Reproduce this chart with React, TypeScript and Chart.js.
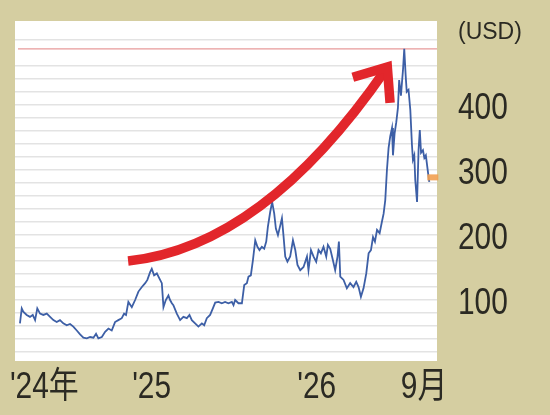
import React, { useEffect, useRef } from "react";
import { Chart, registerables } from "chart.js";

Chart.register(...registerables);

// x = months since Jan 2024 (0 = 1 Jan 2024), y = price in USD
const MONTHS = [
  2.43, 2.56, 2.67, 2.92, 3.16, 3.36, 3.53, 3.69, 3.89, 4.13, 4.38, 4.62, 4.86, 5.1, 5.34, 5.58, 5.83, 6.07, 6.31, 6.56,
  6.8, 7.04, 7.29, 7.53, 7.77, 7.96, 8.13, 8.38, 8.62, 8.86, 9.1, 9.34, 9.58, 9.83, 10.0, 10.14, 10.31, 10.56, 10.8, 11.04,
  11.29, 11.53, 11.69, 11.89, 12.01, 12.18, 12.38, 12.57, 12.74, 12.86, 13.03, 13.22, 13.34, 13.47, 13.58, 13.83, 14.07, 14.31, 14.56, 14.75,
  14.92, 15.16, 15.4, 15.65, 15.82, 16.01, 16.25, 16.45, 16.62, 16.86, 17.1, 17.34, 17.58, 17.83, 17.95, 18.07, 18.31, 18.56, 18.73, 18.92,
  19.04, 19.21, 19.36, 19.53, 19.69, 19.84, 20.01, 20.18, 20.33, 20.45, 20.62, 20.76, 20.91, 21.03, 21.18, 21.35, 21.47, 21.58, 21.71, 21.87,
  22.07, 22.27, 22.44, 22.6, 22.8, 23.04, 23.29, 23.4, 23.58, 23.77, 23.96, 24.13, 24.3, 24.49, 24.69, 24.81, 24.98, 25.18, 25.34, 25.51,
  25.61, 25.71, 25.95, 26.19, 26.43, 26.67, 26.87, 27.04, 27.21, 27.4, 27.6, 27.77, 27.94, 28.09, 28.23, 28.38, 28.57, 28.74, 28.86, 28.98,
  29.1, 29.22, 29.34, 29.47, 29.54, 29.66, 29.78, 29.9, 29.99, 30.12, 30.19, 30.27, 30.36, 30.46, 30.54, 30.67, 30.8, 30.92, 30.99, 31.09,
  31.16, 31.29, 31.4, 31.49, 31.58, 31.72, 31.82, 31.93, 32.09, 32.18,
];
const PRICES = [
  63, 86, 81, 76, 73, 76, 68, 86, 78, 76, 78, 73, 68, 65, 68, 63, 60, 62, 58, 52,
  46, 41, 40, 42, 41, 47, 40, 42, 50, 55, 52, 65, 68, 71, 78, 76, 96, 88, 99, 112,
  119, 125, 130, 142, 147, 137, 140, 132, 125, 88, 99, 106, 99, 94, 91, 78, 68, 73, 71, 76,
  68, 63, 58, 63, 60, 71, 76, 86, 95, 96, 94, 96, 94, 96, 91, 99, 94, 94, 122, 125,
  135, 137, 160, 191, 181, 176, 181, 178, 189, 212, 235, 250, 232, 209, 199, 214, 225, 199, 166, 158,
  166, 191, 176, 153, 145, 150, 166, 145, 176, 166, 158, 176, 171, 181, 166, 184, 178, 160, 145, 166,
  189, 135, 130, 117, 125, 119, 127, 119, 104, 117, 140, 171, 176, 196, 189, 207, 202, 220, 232, 253,
  299, 333, 351, 364, 322, 356, 373, 395, 438, 414, 433, 454, 486, 446, 420, 423, 392, 338, 315, 322,
  284, 250, 330, 361, 326, 330, 318, 322, 295, 281,
];

const X_TICK_VALUES = [4.2, 12, 24, 31.8];
const X_TICK_LABELS = ["'24年", "'25", "'26", "9月"];
const Y_GRID_VALUES = [20, 40, 60, 80, 100, 120, 140, 160, 180, 200, 220, 240, 260, 280, 300, 320, 340, 360, 380, 400, 420, 440, 460, 480, 500];
const Y_LABEL_VALUES = [100, 200, 300, 400];
const UNIT_LABEL = "(USD)";
const MARKER_VALUE = 288;
// curved arrow in data coordinates (month, USD)
const ARROW_START = { x: 10.29, y: 159 };
const ARROW_CTRL = { x: 20.11, y: 181 };
const ARROW_END = { x: 29.13, y: 458 };

const BG = "#d5cea1";
const TEXT = "#2b2a23";
const LABEL_FONT = '36px "Liberation Sans", "Noto Sans CJK JP", sans-serif';
const NARROW_FACTOR = 0.83;

export default function App() {
  const ref = useRef<HTMLCanvasElement>(null);

  useEffect(() => {
    const canvas = ref.current!;
    const athValue = Math.max(...PRICES);

    const narrowText = (ctx: any, text: string, x: number, y: number, align: string) => {
      ctx.save();
      ctx.translate(x, y);
      ctx.scale(NARROW_FACTOR, 1);
      ctx.textAlign = align;
      ctx.textBaseline = "alphabetic";
      ctx.fillText(text, 0, 0);
      ctx.restore();
    };

    const decor = {
      id: "decor",
      beforeDraw(chart: any) {
        const { ctx, chartArea: a, width, height } = chart;
        ctx.save();
        ctx.fillStyle = BG;
        ctx.fillRect(0, 0, width, height);
        ctx.fillStyle = "#ffffff";
        ctx.fillRect(a.left, a.top, a.right - a.left, a.bottom - a.top);
        ctx.restore();
      },
      beforeDatasetsDraw(chart: any) {
        const { ctx, chartArea: a, scales } = chart;
        const y = scales.y.getPixelForValue(athValue);
        ctx.save();
        ctx.strokeStyle = "#e79a9a";
        ctx.lineWidth = 1.3;
        ctx.beginPath();
        ctx.moveTo(a.left + 3, y);
        ctx.lineTo(a.right, y);
        ctx.stroke();
        ctx.restore();
      },
      afterDatasetsDraw(chart: any) {
        const { ctx, scales } = chart;
        const xs = scales.x, ys = scales.y;
        const p0 = { x: xs.getPixelForValue(ARROW_START.x), y: ys.getPixelForValue(ARROW_START.y) };
        const p1 = { x: xs.getPixelForValue(ARROW_CTRL.x), y: ys.getPixelForValue(ARROW_CTRL.y) };
        const p2 = { x: xs.getPixelForValue(ARROW_END.x), y: ys.getPixelForValue(ARROW_END.y) };
        ctx.save();
        ctx.strokeStyle = "#e2262b";
        ctx.lineWidth = 9.5;
        ctx.lineCap = "butt";
        ctx.beginPath();
        ctx.moveTo(p0.x, p0.y);
        ctx.quadraticCurveTo(p1.x, p1.y, p2.x - 2, p2.y + 3);
        ctx.stroke();
        const back = Math.atan2(p1.y - p2.y, p1.x - p2.x);
        const spread = (39 * Math.PI) / 180;
        const len = 36;
        ctx.lineJoin = "miter";
        ctx.beginPath();
        ctx.moveTo(p2.x + len * Math.cos(back + spread), p2.y + len * Math.sin(back + spread));
        ctx.lineTo(p2.x, p2.y);
        ctx.lineTo(p2.x + len * Math.cos(back - spread), p2.y + len * Math.sin(back - spread));
        ctx.stroke();

        // price tag at the latest value
        const lastX = xs.getPixelForValue(MONTHS[MONTHS.length - 1]);
        const my = ys.getPixelForValue(MARKER_VALUE);
        ctx.fillStyle = "rgba(242,160,80,0.9)";
        ctx.fillRect(lastX - 2, my - 3, 11, 6);
        ctx.restore();
      },
      afterDraw(chart: any) {
        const { ctx, chartArea: a, scales } = chart;
        const xs = scales.x, ys = scales.y;
        ctx.save();
        ctx.fillStyle = TEXT;
        ctx.font = LABEL_FONT;
        // y-axis tick labels (condensed lettering)
        Y_LABEL_VALUES.forEach((v) => {
          narrowText(ctx, String(v), a.right + 21, ys.getPixelForValue(v) + 14.5, "left");
        });
        // x-axis tick labels
        X_TICK_VALUES.forEach((v, i) => {
          narrowText(ctx, X_TICK_LABELS[i], xs.getPixelForValue(v), a.bottom + 37, "center");
        });
        // unit label
        ctx.font = '23px "Liberation Sans", sans-serif';
        ctx.textAlign = "left";
        ctx.textBaseline = "middle";
        ctx.fillText(UNIT_LABEL, a.right + 21, a.top + 12);
        ctx.restore();
      },
    };

    const chart = new Chart(canvas, {
      type: "line",
      data: {
        datasets: [
          {
            data: MONTHS.map((m, i) => ({ x: m, y: PRICES[i] })),
            borderColor: "#3d5fa6",
            borderWidth: 1.8,
            pointRadius: 0,
            tension: 0,
            fill: false,
          },
        ],
      },
      options: {
        animation: false,
        responsive: false,
        devicePixelRatio: 1,
        layout: { padding: { left: 15, top: 21, right: 0, bottom: 0 } },
        plugins: { legend: { display: false }, tooltip: { enabled: false } },
        scales: {
          x: {
            type: "linear",
            min: 2.07,
            max: 32.74,
            grid: { display: false },
            border: { display: false },
            afterBuildTicks: (s: any) => {
              s.ticks = X_TICK_VALUES.map((v) => ({ value: v }));
            },
            afterFit: (s: any) => {
              s.height = 54;
            },
            ticks: { display: false },
          },
          y: {
            position: "right",
            min: 5,
            max: 529,
            border: { display: false },
            grid: {
              drawTicks: false,
              lineWidth: 1.5,
              color: (c: any) => (c.tick && c.tick.value === 480 ? "rgba(0,0,0,0)" : "#e3e3e3"),
            },
            afterBuildTicks: (s: any) => {
              s.ticks = Y_GRID_VALUES.map((v) => ({ value: v }));
            },
            afterFit: (s: any) => {
              s.width = 113;
            },
            ticks: { display: false },
          },
        },
      },
      plugins: [decor],
    } as any);

    return () => chart.destroy();
  }, []);

  return (
    <div style={{ position: "fixed", left: 0, top: 0, width: 550, height: 415, background: BG }}>
      <canvas ref={ref} width={550} height={415} style={{ width: 550, height: 415, display: "block" }} />
    </div>
  );
}
